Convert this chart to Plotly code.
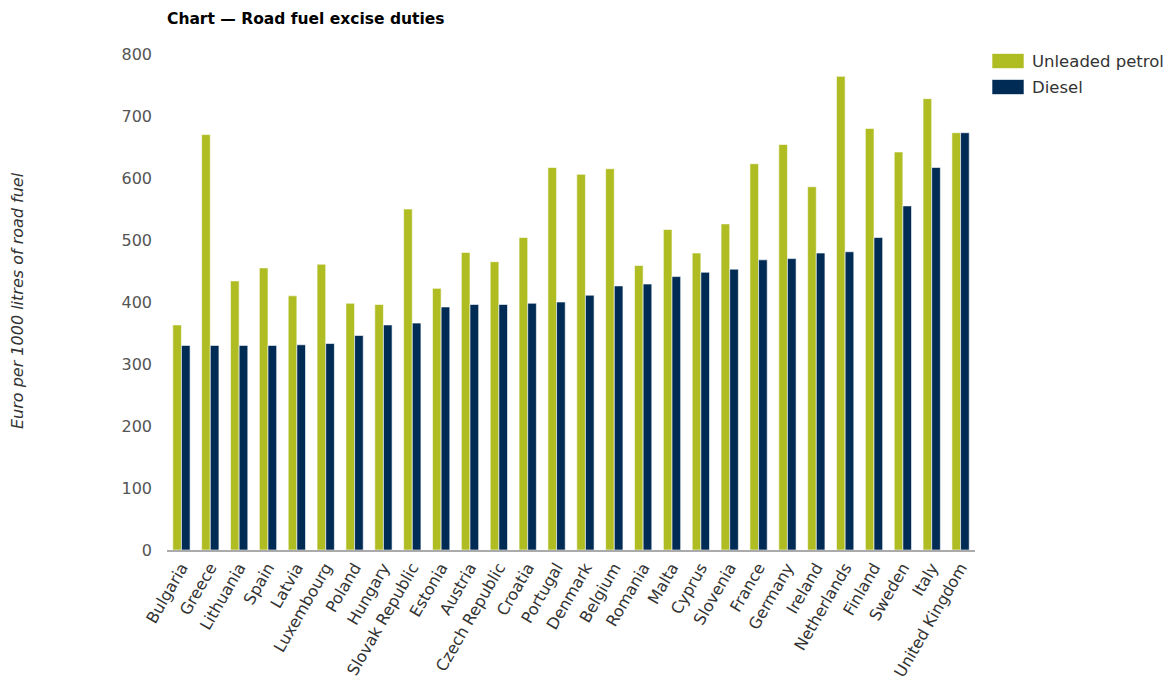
import plotly.graph_objects as go

countries = ["Bulgaria", "Greece", "Lithuania", "Spain", "Latvia", "Luxembourg", "Poland",
             "Hungary", "Slovak Republic", "Estonia", "Austria", "Czech Republic", "Croatia",
             "Portugal", "Denmark", "Belgium", "Romania", "Malta", "Cyprus", "Slovenia",
             "France", "Germany", "Ireland", "Netherlands", "Finland", "Sweden", "Italy",
             "United Kingdom"]

unleaded_petrol = [363, 670, 434, 455, 410, 461, 398, 396, 550, 422, 480, 465, 504, 617,
                   606, 615, 459, 517, 479, 526, 623, 654, 586, 764, 680, 642, 728, 673]
diesel = [330, 330, 330, 330, 331, 333, 346, 363, 366, 392, 396, 396, 398, 400,
          411, 426, 429, 441, 448, 453, 468, 470, 479, 481, 504, 555, 617, 673]

series_names = ["Unleaded petrol", "Diesel"]
series_colors = ["#AFBD22", "#002B55"]
y_ticks = [0, 100, 200, 300, 400, 500, 600, 700, 800]

fig = go.Figure()
for name, vals, col in zip(series_names, [unleaded_petrol, diesel], series_colors):
    fig.add_trace(go.Bar(name=name, x=countries, y=vals, showlegend=False,
                         marker=dict(color=col, line=dict(color="rgba(255,255,255,0.6)", width=1))))

W, H = 1171, 684
L, R, T, B = 167, 196, 54, 134
pw, ph = W - L - R, H - T - B

def px_x(x):
    return (x - L) / pw

def px_y(y):
    return (H - B - y) / ph

fig.update_layout(
    width=W, height=H,
    margin=dict(l=L, r=R, t=T, b=B),
    paper_bgcolor="white", plot_bgcolor="white",
    barmode="group", bargap=0.4, bargroupgap=0.0,
    font=dict(family="DejaVu Sans", size=16, color="#333"),
    title=dict(text="<b>Chart — Road fuel excise duties</b>", x=L / W, xanchor="left",
               y=1 - 19 / H, yanchor="middle",
               font=dict(family="DejaVu Sans", size=15.5, color="#000")),
    showlegend=False,
)

# legend drawn as shapes + text
legend_rows = [61, 87]
for name, col, yc in zip(series_names, series_colors, legend_rows):
    fig.add_shape(type="rect", xref="paper", yref="paper",
                  x0=px_x(992), x1=px_x(1024), y0=px_y(yc - 7.5), y1=px_y(yc + 7.5),
                  fillcolor=col, line=dict(color="rgba(255,255,255,0.6)", width=1))
    fig.add_annotation(text=name, xref="paper", yref="paper", x=px_x(1030), y=px_y(yc),
                       xanchor="left", yanchor="middle", showarrow=False,
                       font=dict(family="DejaVu Sans", size=16.5, color="#333"))

fig.update_xaxes(tickangle=-60, showline=True, linecolor="#aaa", linewidth=2,
                 showgrid=False, ticks="", automargin=False,
                 tickfont=dict(size=16, color="#333"))
fig.update_yaxes(range=[0, 800], tickvals=y_ticks, showgrid=False, zeroline=False,
                 showline=False, ticks="", ticklabelstandoff=14, automargin=False,
                 tickfont=dict(size=16, color="#555"))
fig.add_annotation(text="<i>Euro per 1000 litres of road fuel</i>", textangle=-90,
                   xref="paper", yref="paper", x=0, y=px_y(301), xshift=-150,
                   xanchor="center", yanchor="middle", showarrow=False,
                   font=dict(family="DejaVu Sans", size=16, color="#333"))

fig.write_html("out.html")
